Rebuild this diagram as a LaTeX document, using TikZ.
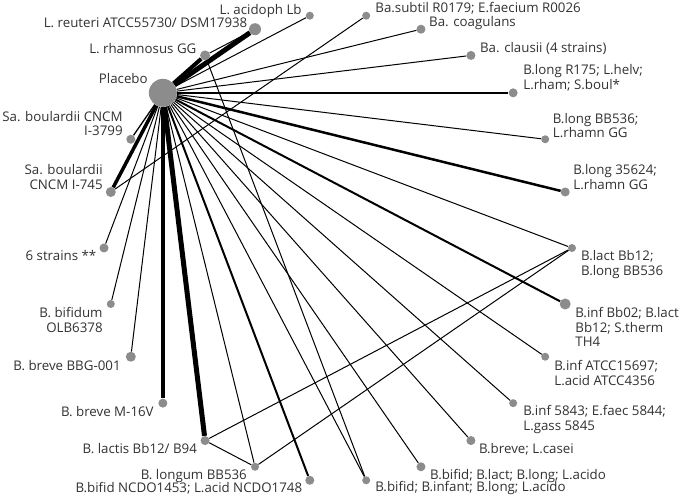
\documentclass[tikz,border=0pt]{standalone}
\usepackage{fontspec}
\setmainfont{Open Sans}
\usetikzlibrary{calc,backgrounds}
\definecolor{nodegray}{RGB}{140,140,140}
\definecolor{txtgray}{RGB}{50,50,50}
\newcommand\myBL[1]{\begin{tabular}[b]{@{}l@{}}#1\end{tabular}}
\newcommand\myTL[1]{\begin{tabular}[t]{@{}l@{}}#1\end{tabular}}
\newcommand\myBR[1]{\begin{tabular}[b]{@{}r@{}}#1\end{tabular}}
\newcommand\myTR[1]{\begin{tabular}[t]{@{}r@{}}#1\end{tabular}}
\begin{document}
\begin{tikzpicture}[x=1pt,y=1pt,
  dot/.style={circle, fill=nodegray, draw=none, inner sep=0pt, minimum size=#1},
  dot/.default=9pt,
  lblR/.style={anchor=base west, inner sep=0pt, text=txtgray, font=\fontsize{13.3}{14.7}\selectfont},
  lblL/.style={anchor=base east, inner sep=0pt, text=txtgray, font=\fontsize{13.3}{14.7}\selectfont},
  conn/.style={draw=black, line width=#1},
  conn/.default=1pt]
\useasboundingbox (0,0) rectangle (683,497);
\coordinate (C) at (338,249);
% nodes on the circle
\node[dot=9pt]  (s6)      at ($(C)+(180:234pt)$) {};
\node[dot=10pt] (sa745)   at ($(C)+(166.154:234pt)$) {};
\node[dot=9pt]  (sa3799)  at ($(C)+(152.308:234pt)$) {};
\node[dot=28pt] (pla)     at ($(C)+(138.462:234pt)$) {};
\node[dot=10pt] (lrh)     at ($(C)+(124.615:234pt)$) {};
\node[dot=12pt] (lreu)    at ($(C)+(110.769:234pt)$) {};
\node[dot=8pt]  (laci)    at ($(C)+(96.923:234pt)$) {};
\node[dot=8pt]  (basub)   at ($(C)+(83.077:234pt)$) {};
\node[dot=9pt]  (bacoa)   at ($(C)+(69.231:234pt)$) {};
\node[dot=9pt]  (bacla)   at ($(C)+(55.385:234pt)$) {};
\node[dot=9pt]  (blr175)  at ($(C)+(41.538:234pt)$) {};
\node[dot=8pt]  (blbb)    at ($(C)+(27.692:234pt)$) {};
\node[dot=9pt]  (bl356)   at ($(C)+(13.846:234pt)$) {};
\node[dot=8pt]  (blact)   at ($(C)+(0:234pt)$) {};
\node[dot=11pt] (binf02)  at ($(C)+(-13.846:234pt)$) {};
\node[dot=8pt]  (binfat)  at ($(C)+(-27.692:234pt)$) {};
\node[dot=8pt]  (binf58)  at ($(C)+(-41.538:234pt)$) {};
\node[dot=9pt]  (bbrcas)  at ($(C)+(-55.385:234pt)$) {};
\node[dot=9pt]  (bbifl)   at ($(C)+(-69.231:234pt)$) {};
\node[dot=8pt]  (bbifi)   at ($(C)+(-83.077:234pt)$) {};
\node[dot=9pt]  (bncdo)   at ($(C)+(-96.923:234pt)$) {};
\node[dot=8pt]  (blong)   at ($(C)+(-110.769:234pt)$) {};
\node[dot=9pt]  (blactis) at ($(C)+(-124.615:234pt)$) {};
\node[dot=9pt]  (bm16)    at ($(C)+(-138.462:234pt)$) {};
\node[dot=10pt] (bbbg)    at ($(C)+(-152.308:234pt)$) {};
\node[dot=8pt]  (bolb)    at ($(C)+(-166.154:234pt)$) {};
% connectors
\begin{scope}[on background layer]
\fill[white] (0,0) rectangle (683,497);
\draw[conn=4pt]   (pla) -- (lrh);
\draw[conn=5pt]   (pla) -- (lreu);
\draw[conn]       (pla) -- (laci);
\draw[conn]       (lrh) -- (lreu);
\draw[conn]       (pla) -- (bacoa);
\draw[conn]       (pla) -- (bacla);
\draw[conn]       (sa745) -- (basub);
\draw[conn=2.5pt] (pla) -- (blr175);
\draw[conn]       (pla) -- (blbb);
\draw[conn=2.5pt] (pla) -- (bl356);
\draw[conn]       (pla) -- (blact);
\draw[conn=2pt]   (pla) -- (binf02);
\draw[conn]       (pla) -- (binfat);
\draw[conn]       (pla) -- (binf58);
\draw[conn]       (pla) -- (bbrcas);
\draw[conn]       (pla) -- (bbifl);
\draw[conn]       (pla) -- (bbifi);
\draw[conn]       (lrh) -- (bbifi);
\draw[conn=2pt]   (pla) -- (bncdo);
\draw[conn]       (pla) -- (blong);
\draw[conn=5pt]   (pla) -- (blactis);
\draw[conn=3.5pt] (pla) -- (bm16);
\draw[conn]       (pla) -- (bbbg);
\draw[conn]       (pla) -- (bolb);
\draw[conn]       (pla) -- (s6);
\draw[conn=3.5pt] (pla) -- (sa745);
\draw[conn=1.3pt] (pla) -- (sa3799);
\draw[conn]       (blactis) -- (blong);
\draw[conn]       (blactis) -- (blact);
\draw[conn]       (blong) -- (blact);
\end{scope}
% labels, left upper
\node[lblL] (tlaci)   at ($(laci)+(-8,1.5)$) {\myBR{L. acidoph Lb}};
\node[lblL] (tlreu)   at ($(lreu)+(-7.5,1.7)$) {\myBR{L. reuteri ATCC55730/ DSM17938}};
\node[lblL] (tlrh)    at ($(lrh)+(-8.5,2.4)$) {\myBR{L. rhamnosus GG}};
\node[lblL] (tpla)    at ($(pla)+(-15,9.4)$) {\myBR{Placebo}};
\node[lblL] (tsa3799) at ($(sa3799)+(-8,3.4)$) {\myBR{Sa. boulardii CNCM\\I-3799}};
\node[lblL] (tsa745)  at ($(sa745)+(-8,2.4)$) {\myBR{Sa. boulardii\\CNCM I-745}};
% labels, left lower
\node[lblL] (ts6)     at ($(s6)+(-7.5,-12.6)$) {\myTR{6 strains **}};
\node[lblL] (tbolb)   at ($(bolb)+(-8,-13.6)$) {\myTR{B. bifidum\\OLB6378}};
\node[lblL] (tbbbg)   at ($(bbbg)+(-10,-13.6)$) {\myTR{B. breve BBG-001}};
\node[lblL] (tbm16)   at ($(bm16)+(-9,-12.9)$) {\myTR{B. breve M-16V}};
\node[lblL] (tblactis) at ($(blactis)+(-8,-12.6)$) {\myTR{B. lactis Bb12/ B94}};
\node[lblL] (tblong)  at ($(blong)+(-8,-12.3)$) {\myTR{B. longum BB536}};
\node[lblL] (tbncdo)  at ($(bncdo)+(-7.5,-11.9)$) {\myTR{B.bifid NCDO1453; L.acid NCDO1748}};
% labels, right upper
\node[lblR] (tbasub)  at ($(basub)+(9,3.1)$) {\myBL{Ba.subtil R0179; E.faecium R0026}};
\node[lblR] (tbacoa)  at ($(bacoa)+(8,2.7)$) {\myBL{Ba. coagulans}};
\node[lblR] (tbacla)  at ($(bacla)+(9,3.4)$) {\myBL{Ba. clausii (4 strains)}};
\node[lblR] (tblr175) at ($(blr175)+(10,3.4)$) {\myBL{B.long R175; L.helv;\\L.rham; S.boul*}};
\node[lblR] (tblbb)   at ($(blbb)+(7.5,1.5)$) {\myBL{B.long BB536;\\L.rhamn GG}};
\node[lblR] (tbl356)  at ($(bl356)+(8,2.4)$) {\myBL{B.long 35624;\\L.rhamn GG}};
% labels, right lower
\node[lblR] (tblact)  at ($(blact)+(9,-12.6)$) {\myTL{B.lact Bb12;\\B.long BB536}};
\node[lblR] (tbinf02) at ($(binf02)+(10,-13.6)$) {\myTL{B.inf Bb02; B.lact\\Bb12; S.therm\\TH4}};
\node[lblR] (tbinfat) at ($(binfat)+(9,-13.6)$) {\myTL{B.inf ATCC15697;\\L.acid ATCC4356}};
\node[lblR] (tbinf58) at ($(binf58)+(10,-12.6)$) {\myTL{B.inf 5843; E.faec 5844;\\L.gass 5845}};
\node[lblR] (tbbrcas) at ($(bbrcas)+(8,-12.6)$) {\myTL{B.breve; L.casei}};
\node[lblR] (tbbifl)  at ($(bbifl)+(9,-12.3)$) {\myTL{B.bifid; B.lact; B.long; L.acido}};
\node[lblR] (tbbifi)  at ($(bbifi)+(9,-11.6)$) {\myTL{B.bifid; B.infant; B.long; L.acido}};
\end{tikzpicture}
\end{document}
